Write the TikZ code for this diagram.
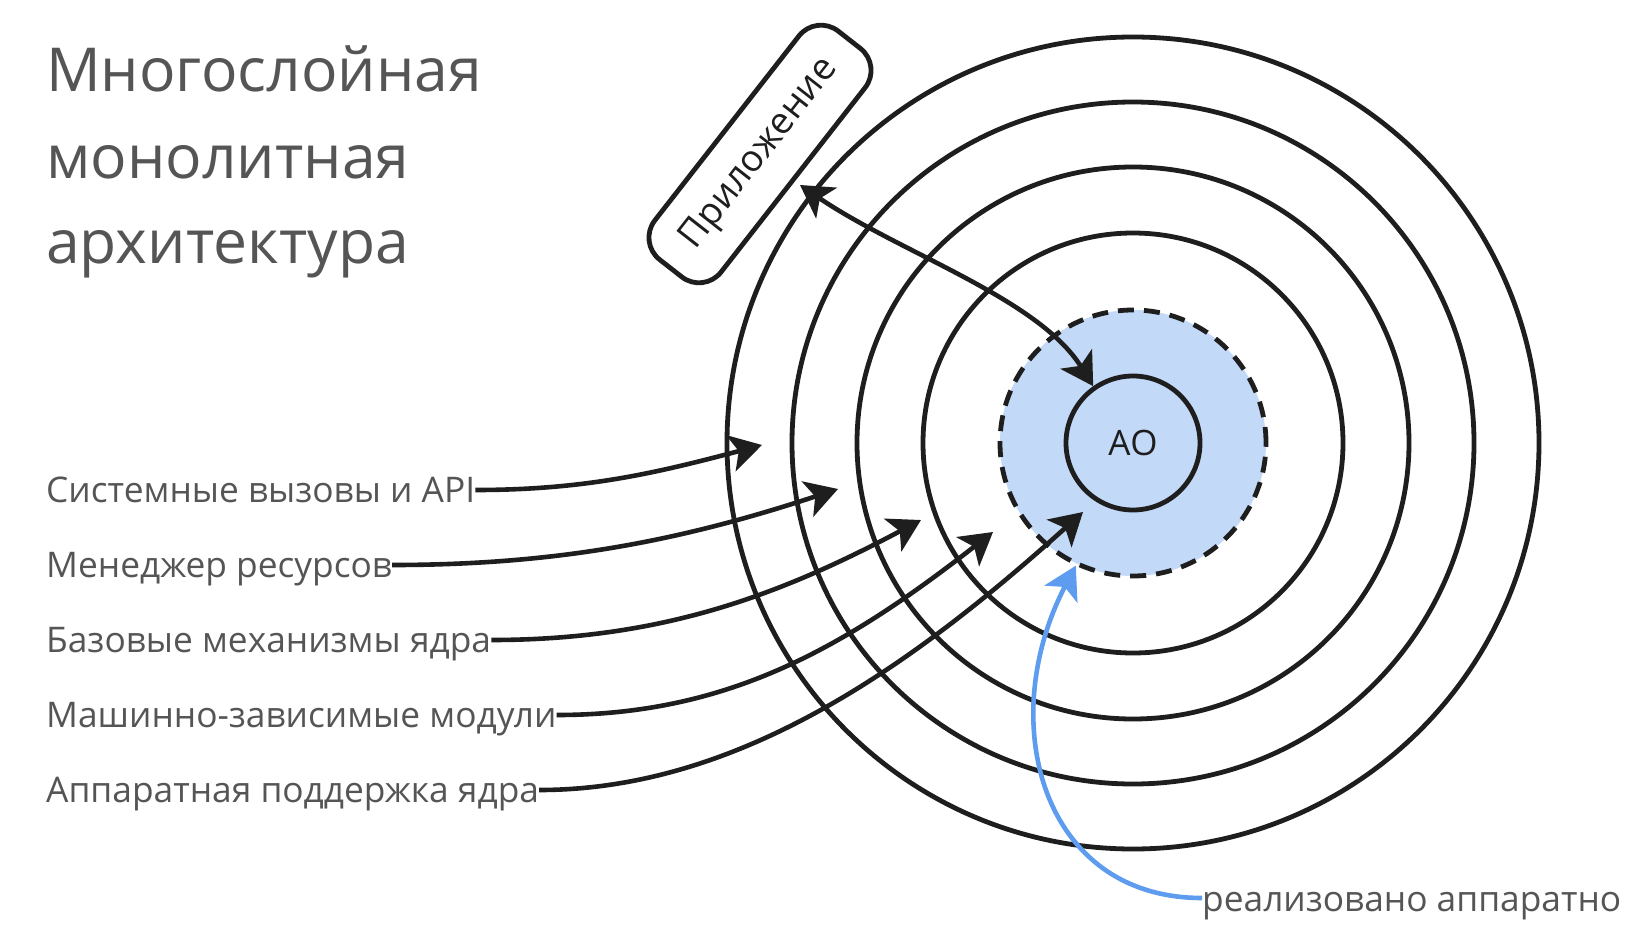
\documentclass[tikz,border=0pt]{standalone}
\usepackage{fontspec}
\setmainfont{Open Sans}
\usetikzlibrary{arrows.meta}
\definecolor{ink}{HTML}{1E1E1E}
\definecolor{txt}{HTML}{555555}
\definecolor{fillblue}{HTML}{C3D9F8}
\definecolor{arrblue}{HTML}{5E9CEF}
\begin{document}
\begin{tikzpicture}[x=1pt,y=-1pt,
  ring/.style={circle, draw=ink, line width=4.8pt, inner sep=0pt},
  lbl/.style={anchor=base west, inner sep=0pt, text=txt, font=\fontsize{35.3}{40}\selectfont},
  ttl/.style={anchor=base west, inner sep=0pt, text=txt, font=\fontsize{60.6}{70}\selectfont},
  bigtip/.tip={Stealth[length=32pt,width=37pt,inset=8pt]},
  conn/.style={draw=ink, line width=4.6pt, -bigtip},
  bconn/.style={draw=arrblue, line width=4.6pt, -bigtip},
  appbox/.style={draw=ink, line width=4.8pt, rounded corners=28pt, fill=white,
    minimum width=290pt, minimum height=84pt, text=ink, font=\fontsize{37}{40}\selectfont}
]
\useasboundingbox (0,0) rectangle (1644,950);
\fill[white] (0,0) rectangle (1644,950);

\coordinate (c) at (1133,443);
% hardware layer
\node[ring, dashed, dash pattern=on 16pt off 10pt, fill=fillblue, minimum size=266pt] (hw) at (c) {};
% rings
\node[ring, minimum size=812pt] (r1) at (c) {};
\node[ring, minimum size=682pt] (r2) at (c) {};
\node[ring, minimum size=552pt] (r3) at (c) {};
\node[ring, minimum size=420pt] (r4) at (c) {};
\node[ring, minimum size=134pt, text=ink, font=\fontsize{35}{40}\selectfont] (ao) at (c) {АО};

% title
\node[ttl] (t1) at (46,92) {Многослойная};
\node[ttl] (t2) at (46,178) {монолитная};
\node[ttl] (t3) at (46,263) {архитектура};

% labels
\node[lbl] (l1) at (46,502) {Системные вызовы и API};
\node[lbl] (l2) at (46,577) {Менеджер ресурсов};
\node[lbl] (l3) at (46,652) {Базовые механизмы ядра};
\node[lbl] (l4) at (46,727) {Машинно-зависимые модули};
\node[lbl] (l5) at (46,802) {Аппаратная поддержка ядра};
\node[lbl] (hwl) at (1202,911) {реализовано аппаратно};

% application box
\node[appbox, rotate=52] (app) at (760,154) {Приложение};

% arrow targets
\coordinate (a1) at (762,445);
\coordinate (a2) at (838,489);
\coordinate (a3) at (921,520);
\coordinate (a4) at (993,532);
\coordinate (a5) at (1083,512);
\coordinate (apptip) at (800,185);

\draw[conn] ([yshift=12pt]l1.base east) .. controls +(110,0) and +(-106,28) .. (a1);
\draw[conn] ([yshift=12pt]l2.base east) .. controls +(170,0) and +(-152,50) .. (a2);
\draw[conn] ([yshift=12pt]l3.base east) .. controls +(170,0) and +(-141,75) .. (a3);
\draw[conn] ([yshift=12pt]l4.base east) .. controls +(170,0) and +(-150,117) .. (a4);
\draw[conn] ([yshift=12pt]l5.base east) .. controls +(200,0) and +(-170,153) .. (a5);

% application <-> AO
\draw[draw=ink, line width=4.6pt, bigtip-bigtip]
  (apptip) .. controls +(100,68) and +(-55,-88) .. (ao.125);

% hardware note
\draw[bconn] ([yshift=13pt]hwl.base west) .. controls +(-161,0) and +(-81,155) .. (hw.245);
\end{tikzpicture}
\end{document}
